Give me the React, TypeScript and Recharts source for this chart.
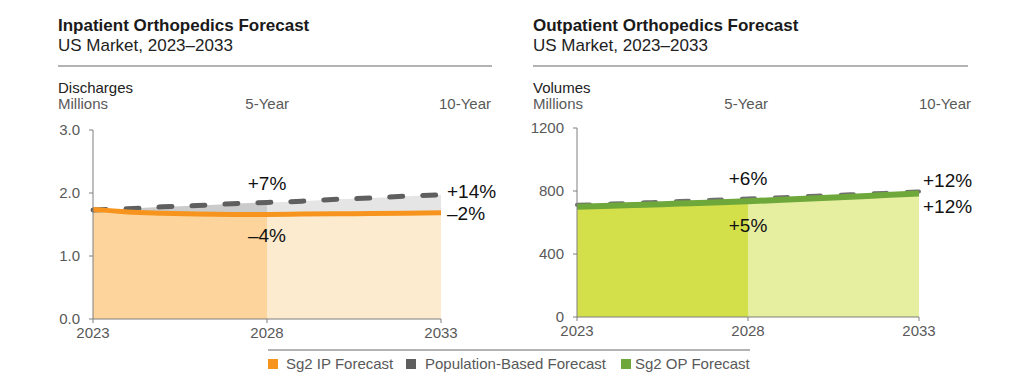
import React from 'react';
import { ComposedChart, Area, Line, XAxis, YAxis } from 'recharts';

const years = [2023, 2024, 2025, 2026, 2027, 2028, 2029, 2030, 2031, 2032, 2033];
const ipForecast = [1.74, 1.7, 1.68, 1.665, 1.66, 1.66, 1.665, 1.67, 1.675, 1.68, 1.685];
const ipPopulation = [1.73, 1.75, 1.78, 1.8, 1.83, 1.85, 1.87, 1.9, 1.92, 1.95, 1.97];
const opForecast = [700, 706, 713, 720, 727, 735, 744, 754, 764, 774, 784];
const opPopulation = [712, 720, 728, 736, 744, 752, 761, 770, 779, 788, 797];

const ipYTicks = [0, 1, 2, 3];
const opYTicks = [0, 400, 800, 1200];
const xTicks = [2023, 2028, 2033];

const ipPopChange = ['+7%', '+14%'];
const ipChange = ['–4%', '–2%'];
const opPopChange = ['+6%', '+12%'];
const opChange = ['+5%', '+12%'];

const FONT = '"Liberation Sans", Arial, Helvetica, sans-serif';

const ipData = years.map((year, i) => ({
  year,
  fc: ipForecast[i],
  gap: ipPopulation[i] - ipForecast[i],
  pop: ipPopulation[i],
}));
const opData = years.map((year, i) => ({
  year,
  fc: opForecast[i],
  gap: opPopulation[i] - opForecast[i],
  pop: opPopulation[i],
}));

type Off = { dx: number; dy: number };
const makeLabel = (texts: string[], mid: Off, end: Off) => (props: any) => {
  const { x, y, index } = props;
  if (index === 5) {
    return (
      <text key={`m${index}`} x={x + mid.dx} y={y + mid.dy} textAnchor="middle" dominantBaseline="central"
        fontFamily={FONT} fontSize={19} fill="#111">{texts[0]}</text>
    );
  }
  if (index === 10) {
    return (
      <text key={`e${index}`} x={x + end.dx} y={y + end.dy} textAnchor="start" dominantBaseline="central"
        fontFamily={FONT} fontSize={19} fill="#111">{texts[1]}</text>
    );
  }
  return <g key={`n${index}`} />;
};

const tickStyle = { fill: '#595959', fontSize: 15, fontFamily: FONT };
const axisColor = '#7f7f7f';

function Header({ left, width, title, unit, sub }: { left: number; width: number; title: string; unit: string; sub: string }) {
  const base: React.CSSProperties = { position: 'absolute', whiteSpace: 'nowrap', fontFamily: FONT };
  return (
    <>
      <div style={{ ...base, left, top: 16, fontSize: 17, fontWeight: 700, color: '#1a1a1a' }}>{title}</div>
      <div style={{ ...base, left, top: 36, fontSize: 17, color: '#222' }}>{sub}</div>
      <div style={{ position: 'absolute', left, top: 65, width, height: 2, background: '#b3b3b3' }} />
      <div style={{ ...base, left, top: 79, fontSize: 15, color: '#222' }}>{unit}</div>
      <div style={{ ...base, left, top: 95, fontSize: 15, color: '#595959' }}>Millions</div>
    </>
  );
}

function YearHead({ right, text }: { right: number; text: string }) {
  return (
    <div style={{ position: 'absolute', left: right - 200, width: 200, textAlign: 'right', top: 95, fontSize: 15, color: '#595959', fontFamily: FONT, whiteSpace: 'nowrap' }}>{text}</div>
  );
}

export default function App() {
  return (
    <div style={{ position: 'absolute', left: 0, top: 0, width: 1024, height: 384, background: '#fff', overflow: 'hidden' }}>
      <Header left={58} width={434} title="Inpatient Orthopedics Forecast" sub="US Market, 2023–2033" unit="Discharges" />
      <YearHead right={289} text="5-Year" />
      <YearHead right={491} text="10-Year" />
      <Header left={533} width={435} title="Outpatient Orthopedics Forecast" sub="US Market, 2023–2033" unit="Volumes" />
      <YearHead right={768} text="5-Year" />
      <YearHead right={971} text="10-Year" />

      <div style={{ position: 'absolute', left: 0, top: 0 }}>
        <ComposedChart width={512} height={360} data={ipData} margin={{ top: 130, right: 71, bottom: 11, left: 53 }}>
          <defs>
            <linearGradient id="ipFill" x1="0" y1="0" x2="1" y2="0">
              <stop offset="0.5" stopColor="#fdd49c" />
              <stop offset="0.5" stopColor="#fdebd0" />
            </linearGradient>
            <linearGradient id="ipGap" x1="0" y1="0" x2="1" y2="0">
              <stop offset="0.5" stopColor="#cbcbcb" />
              <stop offset="0.5" stopColor="#e5e5e5" />
            </linearGradient>
          </defs>
          <XAxis dataKey="year" type="number" domain={[2023, 2033]} ticks={xTicks} height={30}
            tick={tickStyle} tickSize={4} tickMargin={4} stroke={axisColor} interval={0} />
          <YAxis type="number" domain={[0, 3]} ticks={ipYTicks} width={40} tick={tickStyle}
            tickFormatter={(v: number) => v.toFixed(1)} tickSize={4} tickMargin={9} stroke={axisColor} interval={0} />
          <Area dataKey="fc" stackId="s" type="monotone" fill="url(#ipFill)" fillOpacity={1} stroke="none" isAnimationActive={false} />
          <Area dataKey="gap" stackId="s" type="monotone" fill="url(#ipGap)" fillOpacity={1} stroke="none" isAnimationActive={false} />
          <Line dataKey="pop" type="monotone" stroke="#5f5f5f" strokeWidth={5} strokeDasharray="13 20" strokeLinecap="round"
            dot={false} isAnimationActive={false} label={makeLabel(ipPopChange, { dx: 0, dy: -19 }, { dx: 6, dy: -3 })} />
          <Line dataKey="fc" type="monotone" stroke="#f7941d" strokeWidth={5} dot={false} isAnimationActive={false}
            label={makeLabel(ipChange, { dx: 0, dy: 21 }, { dx: 6, dy: 1 })} />
        </ComposedChart>
      </div>

      <div style={{ position: 'absolute', left: 512, top: 0 }}>
        <ComposedChart width={512} height={360} data={opData} margin={{ top: 128, right: 105, bottom: 13, left: 25 }}>
          <defs>
            <linearGradient id="opFill" x1="0" y1="0" x2="1" y2="0">
              <stop offset="0.5" stopColor="#d4e04a" />
              <stop offset="0.5" stopColor="#e6eea0" />
            </linearGradient>
            <linearGradient id="opGap" x1="0" y1="0" x2="1" y2="0">
              <stop offset="0.5" stopColor="#cbcbcb" />
              <stop offset="0.5" stopColor="#e5e5e5" />
            </linearGradient>
          </defs>
          <XAxis dataKey="year" type="number" domain={[2023, 2033]} ticks={xTicks} height={30}
            tick={tickStyle} tickSize={4} tickMargin={4} stroke={axisColor} interval={0} />
          <YAxis type="number" domain={[0, 1200]} ticks={opYTicks} width={40} tick={tickStyle}
            tickSize={4} tickMargin={9} stroke={axisColor} interval={0} />
          <Area dataKey="fc" stackId="s" type="monotone" fill="url(#opFill)" fillOpacity={1} stroke="none" isAnimationActive={false} />
          <Area dataKey="gap" stackId="s" type="monotone" fill="url(#opGap)" fillOpacity={1} stroke="none" isAnimationActive={false} />
          <Line dataKey="pop" type="monotone" stroke="#6f6f6f" strokeWidth={4} strokeDasharray="13 20" strokeLinecap="round"
            dot={false} isAnimationActive={false} label={makeLabel(opPopChange, { dx: 0, dy: -20 }, { dx: 4, dy: -11 })} />
          <Line dataKey="fc" type="monotone" stroke="#6ea83a" strokeWidth={6} dot={false} isAnimationActive={false}
            label={makeLabel(opChange, { dx: 0, dy: 24 }, { dx: 4, dy: 13 })} />
        </ComposedChart>
      </div>

      <div style={{ position: 'absolute', left: 268, top: 349, width: 482, height: 2, background: '#b3b3b3' }} />
      {[
        { color: '#f7941d', text: 'Sg2 IP Forecast', sq: 268, tx: 286 },
        { color: '#5f5f5f', text: 'Population-Based Forecast', sq: 406, tx: 425 },
        { color: '#6ea83a', text: 'Sg2 OP Forecast', sq: 621, tx: 635 },
      ].map((it) => (
        <React.Fragment key={it.text}>
          <div style={{ position: 'absolute', left: it.sq, top: 359, width: 10, height: 10, background: it.color }} />
          <div style={{ position: 'absolute', left: it.tx, top: 355, fontSize: 15, color: '#595959', fontFamily: FONT, whiteSpace: 'nowrap' }}>{it.text}</div>
        </React.Fragment>
      ))}
    </div>
  );
}
